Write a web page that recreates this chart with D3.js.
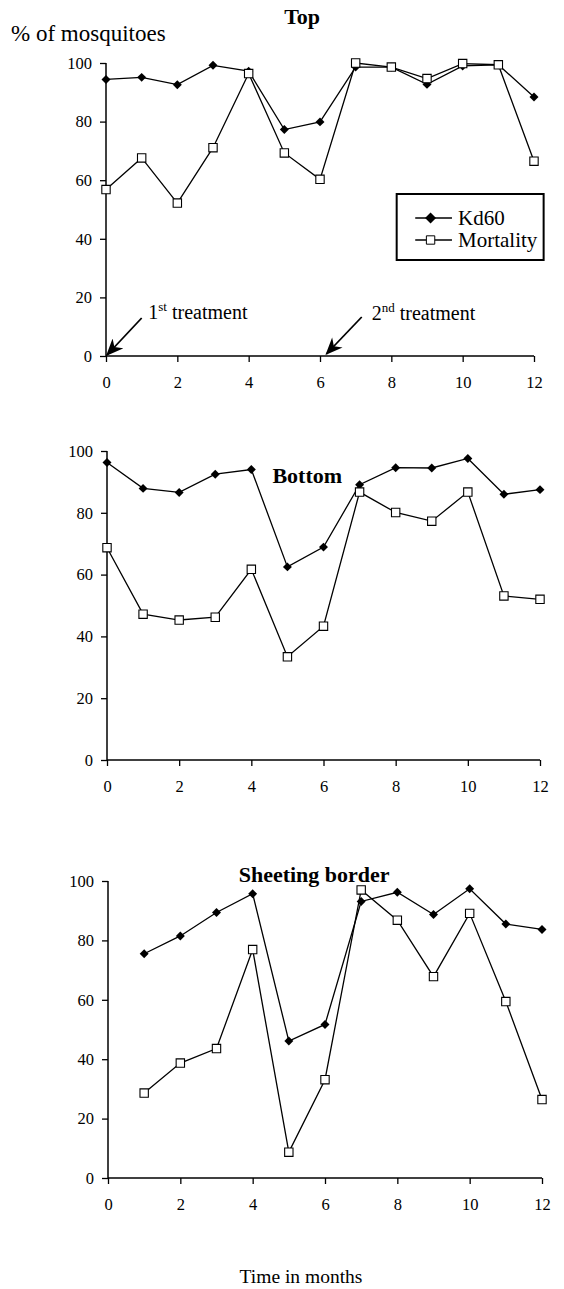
<!DOCTYPE html>
<html>
<head>
<meta charset="utf-8">
<script src="https://cdn.jsdelivr.net/npm/d3@7"></script>
<style>
  body { margin: 0; background: #fff; }
  svg { display: block; }
</style>
</head>
<body>
<svg id="chart" width="564" height="1289"></svg>
<script>
// values
const months = [0, 1, 2, 3, 4, 5, 6, 7, 8, 9, 10, 11, 12];
const sheetMonths = [1, 2, 3, 4, 5, 6, 7, 8, 9, 10, 11, 12];
const xTicks = [0, 2, 4, 6, 8, 10, 12];
const yTicks = [0, 20, 40, 60, 80, 100];

const topKd60 = [94.4, 95.1, 92.6, 99.2, 97.2, 77.3, 79.9, 98.6, 98.6, 92.7, 99.0, 99.4, 88.4];
const topMortality = [56.8, 67.6, 52.2, 71.1, 96.4, 69.3, 60.3, 100, 98.6, 94.7, 99.8, 99.4, 66.5];

const bottomKd60 = [96.3, 87.9, 86.6, 92.5, 94.0, 62.5, 68.9, 89.1, 94.6, 94.5, 97.6, 86.0, 87.5];
const bottomMortality = [68.7, 47.2, 45.3, 46.2, 61.7, 33.4, 43.3, 86.7, 80.1, 77.3, 86.7, 53.1, 52.0];

const sheetKd60 = [75.5, 81.5, 89.4, 95.7, 46.1, 51.7, 93.1, 96.2, 88.7, 97.4, 85.5, 83.7];
const sheetMortality = [28.6, 38.7, 43.6, 76.9, 8.7, 33.1, 97.0, 86.8, 67.8, 89.1, 59.4, 26.4];

const seriesNames = ["Kd60", "Mortality"];

const FONT = "Liberation Serif, Times New Roman, serif";
const svg = d3.select("#chart").attr("font-family", FONT);

// panel layout (pixels)
const panels = [
  { title: "Top", x0: 106, x1: 534, yTop: 63, yBot: 356, xs: months, kd: topKd60, mo: topMortality,
    titleMonth: 5.5, titleY: 24 },
  { title: "Bottom", x0: 107, x1: 540, yTop: 451, yBot: 760, xs: months, kd: bottomKd60, mo: bottomMortality,
    titleMonth: 5.55, titleY: 483 },
  { title: "Sheeting border", x0: 108, x1: 542, yTop: 881, yBot: 1178, xs: sheetMonths, kd: sheetKd60, mo: sheetMortality,
    titleMonth: 5.7, titleY: 882 }
];

const diamond = d3.symbol().type(d3.symbolSquare).size(40);
const square = d3.symbol().type(d3.symbolSquare).size(70);

svg.append("defs").append("marker")
    .attr("id", "arrow").attr("viewBox", "0 0 12 10").attr("refX", 11).attr("refY", 5)
    .attr("markerWidth", 10).attr("markerHeight", 8).attr("orient", "auto")
    .append("path").attr("d", "M0,0 L12,5 L0,10 L3.5,5 Z").attr("fill", "#000");

panels.forEach(function(p, i) {
  const x = d3.scaleLinear().domain([0, 12]).range([p.x0, p.x1]);
  const y = d3.scaleLinear().domain([0, 100]).range([p.yBot, p.yTop]);
  const g = svg.append("g");

  const xAxis = g.append("g")
      .attr("transform", `translate(0,${p.yBot})`)
      .call(d3.axisBottom(x).tickValues(xTicks).tickSize(6).tickPadding(14));
  const yAxis = g.append("g")
      .attr("transform", `translate(${p.x0},0)`)
      .call(d3.axisLeft(y).tickValues(yTicks).tickSize(6).tickPadding(8));

  [xAxis, yAxis].forEach(function(a) {
    a.attr("font-family", FONT);
    a.select(".domain").attr("stroke", "#000").attr("stroke-width", 1.5);
    a.selectAll(".tick line").attr("stroke", "#000").attr("stroke-width", 1.3);
    a.selectAll("text").attr("font-size", 16.5).attr("fill", "#000");
  });
  // plain axis lines, no outer ticks
  xAxis.select(".domain").attr("d", `M${p.x0},0H${p.x1}`);
  yAxis.select(".domain").attr("d", `M0,${p.yBot}V${p.yTop}`);

  const line = d3.line().x((d, k) => x(p.xs[k])).y(d => y(d));

  g.append("path").datum(p.kd).attr("d", line)
      .attr("fill", "none").attr("stroke", "#000").attr("stroke-width", 1.3);
  g.append("path").datum(p.mo).attr("d", line)
      .attr("fill", "none").attr("stroke", "#000").attr("stroke-width", 1.3);

  g.selectAll(".kd").data(p.kd).join("path")
      .attr("d", diamond)
      .attr("transform", (d, k) => `translate(${x(p.xs[k])},${y(d)}) rotate(45)`)
      .attr("fill", "#000");
  g.selectAll(".mo").data(p.mo).join("path")
      .attr("d", square)
      .attr("transform", (d, k) => `translate(${x(p.xs[k])},${y(d)})`)
      .attr("fill", "#fff").attr("stroke", "#000").attr("stroke-width", 1.1);

  g.append("text")
      .attr("x", x(p.titleMonth)).attr("y", p.titleY)
      .attr("text-anchor", "middle")
      .attr("font-size", 22).attr("font-weight", "bold")
      .text(p.title);

  if (i === 0) {
    g.append("text").attr("x", 11).attr("y", 41).attr("font-size", 23).text("% of mosquitoes");

    // legend
    const lg = g.append("g");
    lg.append("rect").attr("x", x(8.15)).attr("y", 194).attr("width", x(12.27) - x(8.15)).attr("height", 66)
        .attr("fill", "#fff").attr("stroke", "#000").attr("stroke-width", 2);
    seriesNames.forEach(function(name, k) {
      const ly = 218 + k * 22;
      lg.append("line").attr("x1", x(8.67)).attr("x2", x(9.7)).attr("y1", ly).attr("y2", ly)
          .attr("stroke", "#000").attr("stroke-width", 1.3);
      lg.append("path")
          .attr("d", k === 0 ? d3.symbol().type(d3.symbolSquare).size(60) : square)
          .attr("transform", `translate(${x(9.1)},${ly})` + (k === 0 ? " rotate(45)" : ""))
          .attr("fill", k === 0 ? "#000" : "#fff").attr("stroke", k === 0 ? null : "#000");
      lg.append("text").attr("x", x(9.87)).attr("y", ly + 7).attr("font-size", 21).text(name);
    });

    // treatment arrows
    const notes = [
      { from: [x(1.0), 318], to: [x(0) + 1, p.yBot - 1], tx: x(0.99) + 7, ty: 319, sup: "st", n: "1" },
      { from: [x(7.17), 317], to: [x(6.18), p.yBot - 2], tx: x(7.45), ty: 320, sup: "nd", n: "2" }
    ];
    notes.forEach(function(a) {
      g.append("line").attr("x1", a.from[0]).attr("y1", a.from[1]).attr("x2", a.to[0]).attr("y2", a.to[1])
          .attr("stroke", "#000").attr("stroke-width", 1.8).attr("marker-end", "url(#arrow)");
      const t = g.append("text").attr("x", a.tx).attr("y", a.ty).attr("font-size", 20);
      t.append("tspan").text(a.n);
      t.append("tspan").attr("font-size", 13).attr("dy", -8).text(a.sup);
      t.append("tspan").attr("dy", 8).text(" treatment");
    });
  }
});

svg.append("text")
    .attr("x", 301).attr("y", 1283)
    .attr("text-anchor", "middle").attr("font-size", 19.5)
    .text("Time in months");
</script>
</body>
</html>
